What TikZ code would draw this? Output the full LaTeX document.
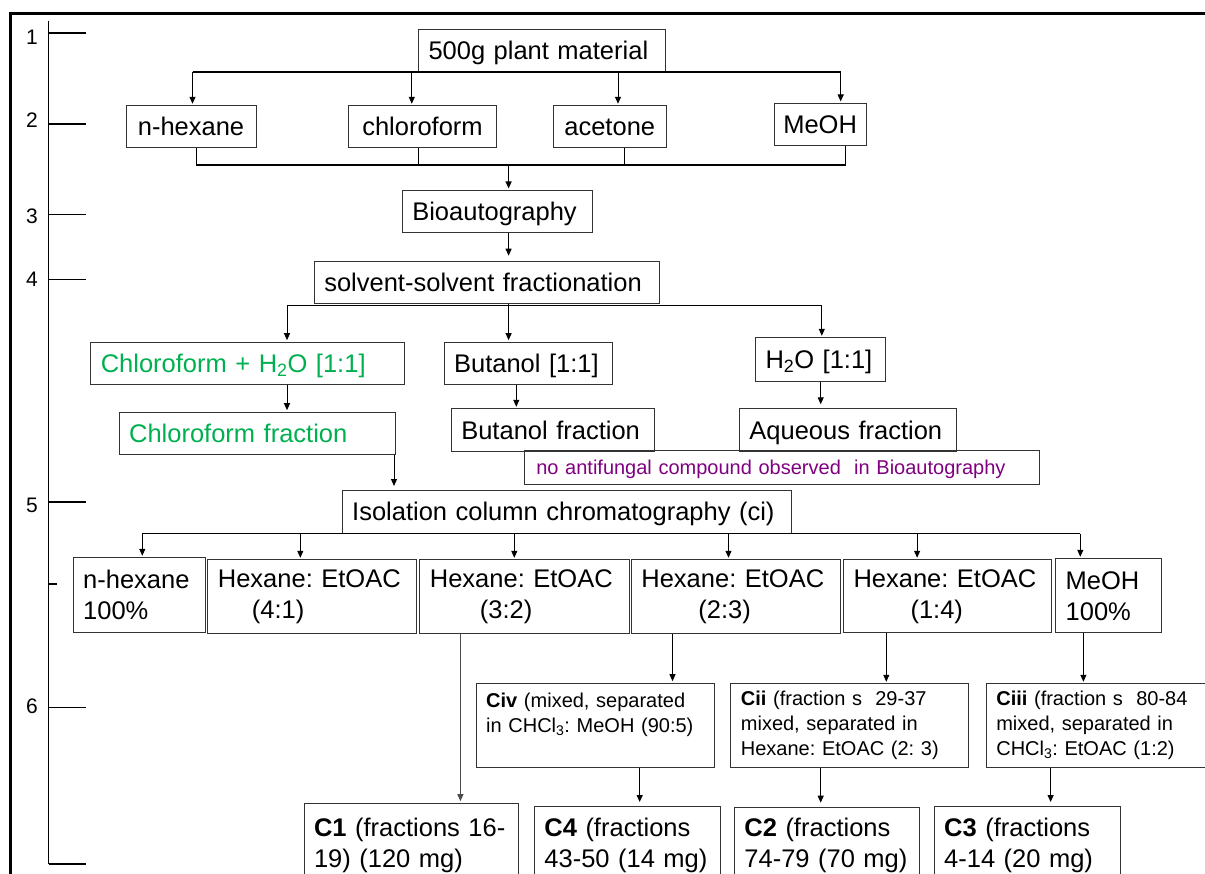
\documentclass[tikz,border=0pt]{standalone}
\usepackage{fontspec}
\setmainfont{Liberation Sans}
\usetikzlibrary{arrows.meta,calc}

\definecolor{extgreen}{RGB}{0,176,80}
\definecolor{nullpurple}{RGB}{128,0,128}
\newcommand\bigtxt{\fontsize{25.5}{31}\selectfont\frenchspacing}
\newcommand\smalltxt{\fontsize{20}{25}\selectfont\frenchspacing}
\newcommand\scaletxt{\fontsize{21}{25}\selectfont}

\begin{document}
\begin{tikzpicture}[x=1pt,y=-1pt,
  box/.style={draw=black!80, line width=1pt, anchor=north west, inner xsep=10pt, inner ysep=0pt, align=left, font=\bigtxt},
  onebox/.style={box, text height=18pt, text depth=0pt},
  cbox/.style={onebox, align=center, inner xsep=0pt},
  smallbox/.style={box, font=\smalltxt},
  arr/.style={-{Triangle[length=7pt,width=6pt]}, line width=1pt, shorten >=1.5pt},
  bus/.style={line width=2pt},
  scalelbl/.style={inner sep=0pt, font=\scaletxt}]

\useasboundingbox (0,0) rectangle (1205,874);

% draw frame
\draw[line width=3.8pt] (10.4,874) -- (10.4,13.6) -- (1205,13.6);

% draw scale
\draw[line width=1pt] (48,20.7) -- (48,863.5);
\draw[line width=2pt] (49,33.5) -- (86,33.5);
\draw[line width=2pt] (49,124) -- (86,124);
\draw[line width=1pt] (49,214.3) -- (86,214.3);
\draw[line width=1pt] (49,280) -- (86,280);
\draw[line width=2pt] (49,501.7) -- (86,501.7);
\draw[line width=2pt] (48,584.3) -- (57,584.3);
\draw[line width=1pt] (49,707.3) -- (86,707.3);
\draw[line width=2pt] (49,863.5) -- (86,863.5);

% add scale labels
\node[scalelbl] (lbla) at (32,37){1};
\node[scalelbl] (lblb) at (32,120){2};
\node[scalelbl] (lblc) at (32,216){3};
\node[scalelbl] (lbld) at (32,279.5){4};
\node[scalelbl] (lble) at (32,505){5};
\node[scalelbl] (lblf) at (32,706){6};

% extraction
\node[onebox, text width=227pt, minimum height=42pt] (plant) at (418,29){\mbox{500g plant material}};
\node[cbox, minimum width=130pt, minimum height=42pt] (hex) at (125.5,105.3){n-hexane};
\node[cbox, minimum width=148pt, minimum height=42pt] (chl) at (348,105.3){chloroform};
\node[cbox, minimum width=112.5pt, minimum height=42pt] (ace) at (553,105.3){acetone};
\node[cbox, minimum width=92pt, minimum height=41.7pt] (meoh) at (773.6,103){MeOH};
\node[onebox, text width=170pt, minimum height=42.3pt] (bio) at (401.8,190){\mbox{Bioautography}};
\node[onebox, text width=325pt, minimum height=42.6pt] (solv) at (313.8,260.7){\mbox{solvent-solvent fractionation}};

% solvent partition
\node[onebox, text width=294pt, minimum height=42.6pt, text=extgreen] (chlw) at (90.3,341.7){\mbox{Chloroform + H\textsubscript{2}O [1:1]}};
\node[onebox, text width=148pt, minimum height=42.6pt] (but) at (443.6,341.7){\mbox{Butanol [1:1]}};
\node[onebox, text width=110pt, minimum height=43.7pt] (wat) at (755,337.3){\mbox{H\textsubscript{2}O [1:1]}};
\node[onebox, text width=256pt, minimum height=42pt, text=extgreen] (chlf) at (118.6,411.7){\mbox{Chloroform fraction}};
\node[onebox, text width=183.6pt, minimum height=42.4pt] (butf) at (450.8,408.3){\mbox{Butanol fraction}};
\node[onebox, text width=196.8pt, minimum height=42.4pt] (aqf) at (738.9,408.3){\mbox{Aqueous fraction}};
\node[onebox, font=\smalltxt, text height=14pt, inner xsep=11.5pt, text width=491.7pt, minimum height=34pt, text=nullpurple] (noaf) at (524.3,450){\mbox{no antifungal compound observed\ \ in Bioautography}};

% column chromatography
\node[onebox, text width=429.3pt, minimum height=42.7pt] (iso) at (341.7,490){\mbox{Isolation column chromatography (ci)}};
\node[box, text width=112pt, minimum height=75pt] (ra) at (72.7,557.3){\mbox{n-hexane}\\\mbox{100\%}};
\node[box, text width=189pt, minimum height=74pt] (rb) at (207.4,559.3){\mbox{Hexane: EtOAC}\\\mbox{\hspace*{34pt}(4:1)}};
\node[box, text width=189.6pt, minimum height=74pt] (rc) at (419.4,559.3){\mbox{Hexane: EtOAC}\\\mbox{\hspace*{50pt}(3:2)}};
\node[box, text width=189pt, minimum height=74pt] (rd) at (630.9,559.3){\mbox{Hexane: EtOAC}\\\mbox{\hspace*{57pt}(2:3)}};
\node[box, text width=188.4pt, minimum height=73pt] (re) at (843,559.3){\mbox{Hexane: EtOAC}\\\mbox{\hspace*{57pt}(1:4)}};
\node[box, text width=86pt, minimum height=74pt] (rf) at (1055.2,558.3){\mbox{MeOH}\\\mbox{100\%}};

% sub-fractions
\node[smallbox, text width=218.5pt, minimum height=84.6pt] (civ) at (475.7,682.7){\mbox{\textbf{Civ} (mixed, separated}\\\mbox{in CHCl\textsubscript{3}: MeOH (90:5)}\\~};
\node[smallbox, text width=218pt, minimum height=83.4pt] (cii) at (730.4,683.3){\mbox{\textbf{Cii} (fraction s\ \ 29-37}\\\mbox{mixed, separated in}\\\mbox{Hexane: EtOAC (2: 3)}};
\node[smallbox, text width=198.7pt, minimum height=83.4pt] (ciii) at (985.8,683.3){\mbox{\textbf{Ciii} (fraction s\ \ 80-84}\\\mbox{mixed, separated in}\\\mbox{CHCl\textsubscript{3}: EtOAC (1:2)}};

% compounds
\node[box, text width=194pt, minimum height=84pt] (ca) at (303.5,802.7){\mbox{\textbf{C1} (fractions 16-}\\\mbox{19) (120 mg)}};
\node[box, text width=165.7pt, minimum height=77pt] (cd) at (533.9,806){\mbox{\textbf{C4} (fractions}\\\mbox{43-50 (14 mg)}};
\node[box, text width=165.5pt, minimum height=76pt] (cb) at (733.9,806.7){\mbox{\textbf{C2} (fractions}\\\mbox{74-79 (70 mg)}};
\node[box, text width=166.3pt, minimum height=77pt] (cc) at (933.7,806){\mbox{\textbf{C3} (fractions}\\\mbox{4-14 (20 mg)}};

% extraction arrows
\coordinate (hexin) at ($(hex.north west)+(67,0)$);
\coordinate (chlin) at ($(chl.north west)+(63.8,0)$);
\coordinate (acein) at ($(ace.north west)+(65,0)$);
\coordinate (meohin) at ($(meoh.north west)+(67.1,0)$);
\draw[bus] (plant.south -| hexin) -- (plant.south -| meohin);
\draw[arr] (plant.south -| hexin) -- (hexin);
\draw[arr] (plant.south -| chlin) -- (chlin);
\draw[arr] (plant.south -| acein) -- (acein);
\draw[arr] (plant.south -| meohin) -- (meohin);

% pooled extracts
\coordinate (hexout) at ($(hex.south west)+(70.8,0)$);
\coordinate (chlout) at ($(chl.south west)+(70.3,0)$);
\coordinate (aceout) at ($(ace.south west)+(71,0)$);
\coordinate (meohout) at ($(meoh.south west)+(72.2,0)$);
\coordinate (mrg) at ($(bio.north west)+(106.8,-25.3)$);
\draw[bus] (hexout |- mrg) -- (meohout |- mrg);
\draw[line width=1pt] (hexout) -- (hexout |- mrg);
\draw[line width=1pt] (chlout) -- (chlout |- mrg);
\draw[line width=1pt] (aceout) -- (aceout |- mrg);
\draw[line width=1pt] (meohout) -- (meohout |- mrg);
\draw[arr] (mrg) -- (mrg |- bio.north);
\draw[arr, shorten >=5pt] (mrg |- bio.south) -- (mrg |- solv.north);

% partition arrows
\coordinate (sbus) at ($(solv.south)+(0,1.7)$);
\coordinate (chlwin) at ($(chlw.north west)+(196.7,0)$);
\coordinate (butin) at ($(but.north west)+(65,0)$);
\coordinate (watin) at ($(wat.north west)+(66.8,0)$);
\draw[line width=1pt] (sbus -| chlwin) -- (sbus -| watin);
\draw[line width=1pt] (solv.south -| butin) -- (sbus -| butin);
\draw[arr] (sbus -| chlwin) -- (chlwin);
\draw[arr] (sbus -| butin) -- (butin);
\draw[arr] (sbus -| watin) -- (watin);

\coordinate (chlfin) at ($(chlf.north west)+(168.4,0)$);
\coordinate (butfin) at ($(butf.north west)+(65.5,0)$);
\coordinate (aqfin) at ($(aqf.north west)+(81.8,0)$);
\draw[arr] (chlw.south -| chlfin) -- (chlfin);
\draw[arr] (but.south -| butfin) -- (butfin);
\draw[arr, shorten >=4pt] (wat.south -| aqfin) -- (aqfin);

% into the column
\coordinate (isoin) at ($(iso.north west)+(52.3,0)$);
\draw[arr, shorten >=4pt] (chlf.south -| isoin) -- (isoin);

% column elution
\coordinate (rain) at ($(ra.north west)+(69.6,0)$);
\coordinate (rbin) at ($(rb.north west)+(92.9,0)$);
\coordinate (rcin) at ($(rc.north west)+(94.9,0)$);
\coordinate (rdin) at ($(rd.north west)+(97.6,0)$);
\coordinate (rein) at ($(re.north west)+(74.1,0)$);
\coordinate (rfin) at ($(rf.north west)+(25.1,0)$);
\draw[line width=1pt] (iso.south -| rain) -- (iso.south -| rfin);
\draw[arr] (iso.south -| rain) -- (rain);
\draw[arr] (iso.south -| rbin) -- (rbin);
\draw[arr] (iso.south -| rcin) -- (rcin);
\draw[arr] (iso.south -| rdin) -- (rdin);
\draw[arr] (iso.south -| rein) -- (rein);
\draw[arr] (iso.south -| rfin) -- (rfin);

% sub-fraction arrows
\coordinate (civin) at ($(civ.north west)+(196.8,0)$);
\coordinate (ciiin) at ($(cii.north west)+(155.9,0)$);
\coordinate (ciiiin) at ($(ciii.north west)+(97.6,0)$);
\draw[arr] (rd.south -| civin) -- (civin);
\draw[arr] (re.south -| ciiin) -- (ciiin);
\draw[arr] (rf.south -| ciiiin) -- (ciiiin);

% compound arrows
\coordinate (cain) at ($(ca.north west)+(156.9,0)$);
\coordinate (cdin) at ($(cd.north west)+(105.8,0)$);
\coordinate (cbin) at ($(cb.north west)+(86.8,0)$);
\coordinate (ccin) at ($(cc.north west)+(116.9,0)$);
\draw[arr, draw=black!70] (rc.south -| cain) -- (cain);
\draw[arr, shorten >=4pt] (civ.south -| cdin) -- (cdin);
\draw[arr, shorten >=4pt] (cii.south -| cbin) -- (cbin);
\draw[arr, shorten >=4pt] (ciii.south -| ccin) -- (ccin);

\end{tikzpicture}
\end{document}
